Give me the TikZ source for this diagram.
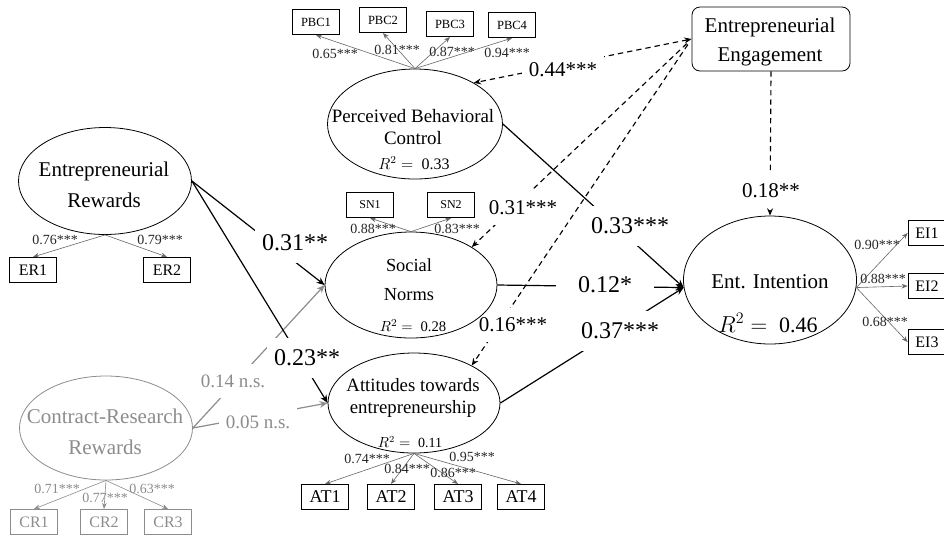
\documentclass[tikz,border=0pt]{standalone}
\usepackage{fontspec}
\setmainfont{Liberation Serif}
\usetikzlibrary{shapes.geometric,arrows.meta}
\pgfdeclarelayer{bg}
\pgfsetlayers{bg,main}
\colorlet{nsgray}{black!45}
\begin{document}
\begin{tikzpicture}[x=0.75pt, y=-0.75pt,
    latent/.style={draw, ellipse, inner sep=0pt, line width=0.6pt},
    ind/.style={draw, rectangle, inner sep=0pt, line width=0.6pt, minimum width=35pt, minimum height=19pt},
    loading/.style={-{Stealth[length=4.5pt, width=3.5pt]}, draw=black!60, line width=0.45pt},
    effect/.style={-{Stealth[length=6pt, width=5pt]}, line width=0.9pt},
    moder/.style={-{Stealth[length=5.5pt, width=4.5pt]}, dash pattern=on 4pt off 3pt, line width=0.85pt},
    bigtxt/.style={align=center, font=\fontsize{15.75}{23}\selectfont},
    midtxt/.style={align=center, font=\fontsize{14.2}{16}\selectfont},
    lbl/.style={inner sep=0pt, text=black!85, font=\fontsize{10.5}{12}\selectfont},
    coef/.style={fill=white, inner xsep=5pt, minimum height=30pt, font=\fontsize{18}{20}\selectfont},
    modcoef/.style={fill=white, inner xsep=5pt, minimum height=26pt, font=\fontsize{15.75}{18}\selectfont},
    nscoef/.style={fill=white, inner xsep=5pt, minimum height=26pt, text=nsgray, font=\fontsize{14.25}{16}\selectfont}]
    \useasboundingbox (0,0) rectangle (944,537);

    \node[latent, minimum width=129.75pt, minimum height=80.25pt] (er) at (105,181) {};
    \node[latent, draw=nsgray, minimum width=129.75pt, minimum height=78pt] (cr) at (106,428) {};
    \node[latent, minimum width=131.25pt, minimum height=82.5pt] (pbc) at (415,124) {};
    \node[latent, minimum width=129pt, minimum height=79.5pt] (sn) at (411,285) {};
    \node[latent, minimum width=129pt, minimum height=75pt] (att) at (414,403) {};
    \node[latent, minimum width=129.75pt, minimum height=96pt] (ei) at (770,280) {};
    \node[draw, rounded corners=6pt, line width=0.6pt, minimum width=118.5pt, minimum height=48pt] (ee) at (771,39) {};

    \node[bigtxt] (er-t) at (104,185) {Entrepreneurial\\Rewards};
    \node[bigtxt, text=nsgray] (cr-t) at (105,432) {Contract-Research\\Rewards};
    \node[bigtxt, font=\fontsize{15.75}{22}\selectfont] (ee-t) at (770,42) {Entrepreneurial\\Engagement};
    \node[bigtxt] (ei-t) at (770,282) {Ent. Intention};
    \node[midtxt] (pbc-t) at (413,127) {Perceived Behavioral\\Control};
    \node[midtxt, font=\fontsize{13.8}{21.75}\selectfont] (sn-t) at (409,280) {Social\\Norms};
    \node[midtxt, font=\fontsize{14.1}{17}\selectfont] (att-t) at (413,398) {Attitudes towards\\entrepreneurship};

    \node[font=\fontsize{12}{14}\selectfont] (pbc-r) at (414,163) {$R^2={}$ 0.33};
    \node[font=\fontsize{11}{13}\selectfont] (sn-r) at (413,326) {$R^2={}$ 0.28};
    \node[font=\fontsize{10.5}{12}\selectfont] (att-r) at (410,442) {$R^2={}$ 0.11};
    \node[font=\fontsize{16.5}{18}\selectfont] (ei-r) at (768,323) {$R^2={}$ 0.46};

    \foreach \n/\x/\y/\v/\lx/\ly in {1/316/22/0.65/335/54, 2/383/20/0.81/397/50,
        3/450/24/0.87/452/52, 4/512/25/0.94/507/53} {
        \node[ind, font=\fontsize{9.4}{11}\selectfont] (pbc\n) at (\x,\y) {PBC\n};
        \draw[loading] (pbc.north) -- (pbc\n.south);
        \node[lbl] (pbc\n-l) at (\lx,\ly) {\v***};
    }
    \foreach \n/\x/\v/\lx in {1/370/0.88/373, 2/451/0.83/457} {
        \node[ind, font=\fontsize{9}{11}\selectfont] (sn\n) at (\x,205) {SN\n};
        \draw[loading] (sn.north) -- (sn\n.south);
        \node[lbl] (sn\n-l) at (\lx,229) {\v***};
    }
    \foreach \n/\x/\v/\lx in {1/33/0.76/55, 2/167/0.79/160} {
        \node[ind, font=\fontsize{12}{14}\selectfont] (er\n) at (\x,270) {ER\n};
        \draw[loading] (er.south) -- (er\n.north);
        \node[lbl] (er\n-l) at (\lx,240) {\v***};
    }
    \foreach \n/\x/\v/\lx/\ly in {1/34/0.71/57/489, 2/104/0.77/105/498, 3/168/0.63/152/489} {
        \node[ind, draw=nsgray, text=nsgray, font=\fontsize{12}{14}\selectfont] (cr\n) at (\x,522) {CR\n};
        \draw[loading, draw=nsgray] (cr.south) -- (cr\n.north);
        \node[lbl, text=nsgray] (cr\n-l) at (\lx,\ly) {\v***};
    }
    \foreach \n/\x/\v/\lx/\ly in {1/325/0.74/367/459, 2/391/0.84/407/469,
        3/458/0.86/453/473, 4/521/0.95/472/457} {
        \node[ind, font=\fontsize{13.5}{15}\selectfont] (att\n) at (\x,497) {AT\n};
        \draw[loading] (att.south) -- (att\n.north);
        \node[lbl] (att\n-l) at (\lx,\ly) {\v***};
    }
    \foreach \n/\y/\v/\lx/\ly in {1/233/0.90/877/245, 2/286/0.88/883/279, 3/342/0.68/885/322} {
        \node[ind, minimum width=28.5pt, font=\fontsize{12}{14}\selectfont] (ei\n) at (927,\y) {EI\n};
        \draw[loading] (ei.355) -- (ei\n.west);
        \node[lbl] (ei\n-l) at (\lx,\ly) {\v***};
    }

    \begin{pgfonlayer}{bg}
        \draw[effect, nsgray] (cr.east) -- (sn.west);
        \draw[effect, nsgray] (cr.east) -- (att.west);
        \draw[effect] (er.east) -- (sn.west);
        \draw[effect] (er.east) -- (att.west);
        \draw[effect] (pbc.east) -- (ei.185);
        \draw[effect] (sn.east) -- (ei.185);
        \draw[effect] (att.east) -- (ei.185);
        \draw[moder, {Stealth[length=5.5pt, width=4.5pt]}-{Stealth[length=5.5pt, width=4.5pt]}] (ee.west) -- (pbc.35);
        \draw[moder, shorten <=5pt] (ee.west) -- (sn.32);
        \draw[moder, shorten <=5pt] (ee.west) -- (att.33);
        \draw[moder] (ee.south) -- (ei.north);

        \node[coef] (c-er-sn) at (295,243) {0.31**};
        \node[coef] (c-er-att) at (307,358) {0.23**};
        \node[coef, minimum width=73pt] (c-sn-ei) at (605,285) {0.12*};
        \node[coef] (c-pbc-ei) at (630,226) {0.33***};
        \node[coef] (c-att-ei) at (620,331) {0.37***};
        \node[modcoef] (c-ee-pbc) at (563,70) {0.44***};
        \node[modcoef] (c-ee-sn) at (523,208) {0.31***};
        \node[modcoef] (c-ee-att) at (513,325) {0.16***};
        \node[modcoef] (c-ee-ei) at (771,191) {0.18**};
        \node[nscoef] (c-cr-sn) at (233,381) {0.14 n.s.};
        \node[nscoef] (c-cr-att) at (258,422) {0.05 n.s.};
    \end{pgfonlayer}
\end{tikzpicture}
\end{document}
